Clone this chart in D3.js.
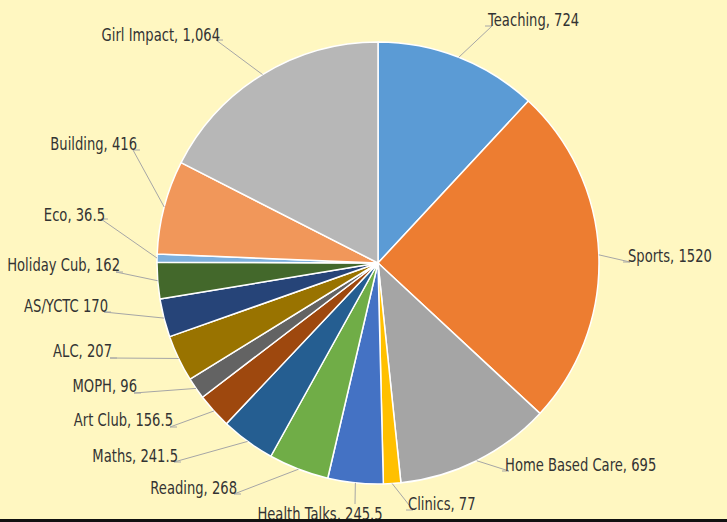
<!DOCTYPE html>
<html>
<head>
<meta charset="utf-8">
<script src="https://cdn.jsdelivr.net/npm/d3@7"></script>
<style>
  html, body { margin: 0; padding: 0; background: #fff7c1; }
  svg { display: block; }
</style>
</head>
<body>
<svg id="chart"></svg>
<script>
// slices, clockwise from 12 o'clock
var categories = ["Teaching", "Sports", "Home Based Care", "Clinics", "Health Talks",
  "Reading", "Maths", "Art Club", "MOPH", "ALC", "AS/YCTC", "Holiday Cub", "Eco",
  "Building", "Girl Impact"];
var values = [724, 1520, 695, 77, 245.5, 268, 241.5, 156.5, 96, 207, 170, 162, 36.5, 416, 1064];
var labelText = ["Teaching, 724", "Sports, 1520", "Home Based Care, 695", "Clinics, 77",
  "Health Talks, 245.5", "Reading, 268", "Maths, 241.5", "Art Club, 156.5", "MOPH, 96",
  "ALC, 207", "AS/YCTC 170", "Holiday Cub, 162", "Eco, 36.5", "Building, 416",
  "Girl Impact, 1,064"];
var colors = ["#5b9bd5", "#ed7d31", "#a5a5a5", "#ffc000", "#4472c4", "#70ad47", "#255e91",
  "#9e480e", "#636363", "#997300", "#264478", "#43682b", "#7cafdd", "#f1975a", "#b7b7b7"];

// label layout: text x, baseline y, anchor, leader end x/y, leader direction
var labelLayout = [
  [488, 26, "start", 485, 26, 1],
  [628, 262, "start", 623, 262, 1],
  [505, 471, "start", 502, 471, 1],
  [408, 510, "start", 406, 510, 1],
  [320, 520, "middle", 355, 504, 0],
  [237, 494, "end", 241, 494, -1],
  [178, 462, "end", 181, 462, -1],
  [173, 426, "end", 177, 427, -1],
  [137, 392, "end", 141, 393, -1],
  [112, 357, "end", 117, 358, -1],
  [108, 312, "end", 111, 312, -1],
  [120, 271, "end", 123, 272, -1],
  [105, 221, "end", 108, 219, -1],
  [137, 150, "end", 140, 150, -1],
  [220, 41, "end", 223, 40, -1]
];

var width = 727, height = 522;
var cx = 378, cy = 263, radius = 221;

var svg = d3.select("#chart").attr("width", width).attr("height", height);

svg.append("rect").attr("width", width).attr("height", height).attr("fill", "#fff7c1");

var data = categories.map(function (c, i) { return { category: c, value: values[i], i: i }; });

var pie = d3.pie().sort(null).value(function (d) { return d.value; });
var arcs = pie(data);
var arc = d3.arc().innerRadius(0).outerRadius(radius);

var g = svg.append("g").attr("transform", "translate(" + cx + "," + cy + ")");

g.selectAll("path.slice")
  .data(arcs)
  .join("path")
  .attr("class", "slice")
  .attr("d", arc)
  .attr("fill", function (d) { return colors[d.data.i]; })
  .attr("stroke", "#ffffff")
  .attr("stroke-width", 1.5)
  .attr("stroke-linejoin", "round");

// leader lines from the arc edge at mid angle
var line = d3.line();
svg.append("g")
  .selectAll("path")
  .data(arcs)
  .join("path")
  .attr("d", function (d) {
    var a = (d.startAngle + d.endAngle) / 2;
    var L = labelLayout[d.data.i];
    var edge = [cx + radius * Math.sin(a), cy - radius * Math.cos(a)];
    if (L[5] === 0) return line([edge, [L[3], L[4]]]);
    return line([edge, [L[3] + L[5] * 7, L[4]], [L[3], L[4]]]);
  })
  .attr("fill", "none")
  .attr("stroke", "#a6a6a6")
  .attr("stroke-width", 1);

// condensed look: squeeze the glyphs horizontally
svg.append("g")
  .selectAll("text")
  .data(arcs)
  .join("text")
  .attr("transform", function (d) {
    var L = labelLayout[d.data.i];
    return "translate(" + L[0] + "," + L[1] + ") scale(0.73,1)";
  })
  .attr("text-anchor", function (d) { return labelLayout[d.data.i][2]; })
  .attr("font-family", "'DejaVu Sans', sans-serif")
  .attr("font-size", 18)
  .attr("fill", "#333333")
  .text(function (d) { return labelText[d.data.i]; });

// dark strip along the bottom edge
svg.append("rect")
  .attr("x", 0).attr("y", 519)
  .attr("width", width).attr("height", 3)
  .attr("fill", "#111111");
</script>
</body>
</html>
